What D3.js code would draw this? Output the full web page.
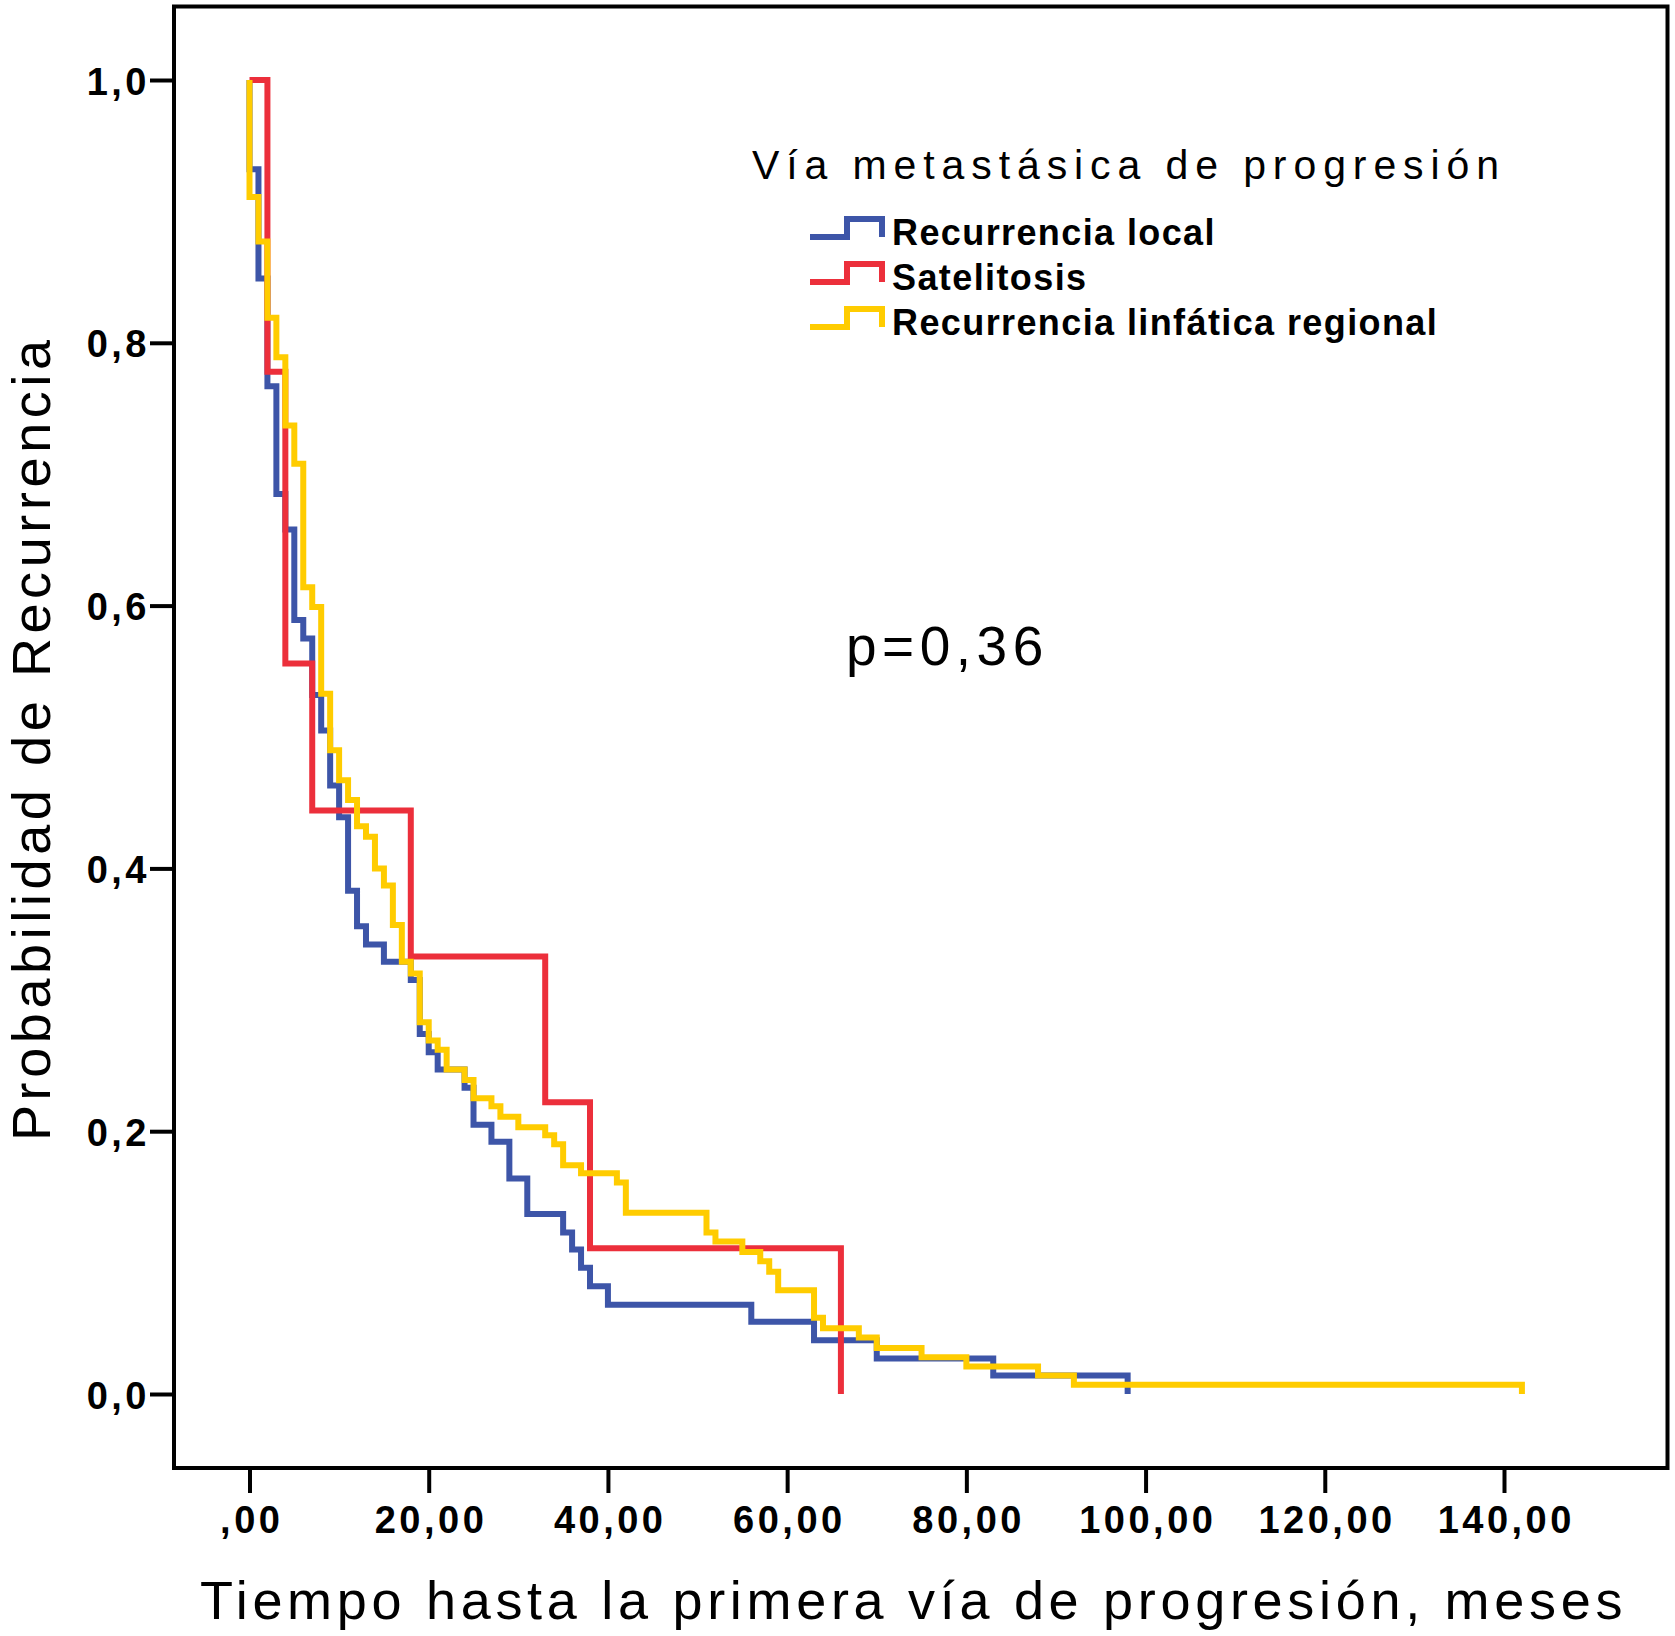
<!DOCTYPE html>
<html>
<head>
<meta charset="utf-8">
<script src="https://cdn.jsdelivr.net/npm/d3@7"></script>
<style>
  html, body { margin: 0; padding: 0; background: #fff; }
  svg { display: block; }
</style>
</head>
<body>
<svg id="chart" width="1675" height="1636"></svg>
<script>
// Kaplan-Meier curves (time in months, probability after the step)
const localTimes = [0, 0, 1, 2, 3, 4, 5, 6, 7, 8, 9, 10, 11, 12, 13, 15, 18, 19, 20, 21, 24, 25, 27, 29, 31, 35, 36, 37, 38, 40, 56, 63, 70, 83, 98];
const localSurv  = [1, 0.932, 0.849, 0.767, 0.685, 0.658, 0.589, 0.575, 0.532, 0.505, 0.463, 0.439, 0.383, 0.356, 0.342, 0.329, 0.315, 0.274, 0.260, 0.247, 0.233, 0.205, 0.192, 0.164, 0.137, 0.123, 0.110, 0.096, 0.082, 0.068, 0.055, 0.041, 0.027, 0.014, 0];

const satTimes = [0, 2, 4, 7, 18, 33, 38, 66];
const satSurv  = [1, 0.778, 0.556, 0.444, 0.333, 0.222, 0.111, 0];

const linfTimes = [0, 0, 1, 2, 3, 4, 5, 6, 7, 8, 9, 10, 11, 12, 13, 14, 15, 16, 17, 18, 19, 20, 21, 22, 24, 25, 27, 28, 30, 33, 34, 35, 37, 41, 42, 51, 52, 55, 57, 58, 59, 63, 64, 68, 70, 75, 80, 88, 92, 142];
const linfSurv  = [1, 0.911, 0.877, 0.819, 0.789, 0.737, 0.708, 0.614, 0.599, 0.533, 0.490, 0.467, 0.452, 0.432, 0.424, 0.400, 0.387, 0.357, 0.329, 0.320, 0.283, 0.269, 0.262, 0.247, 0.239, 0.225, 0.219, 0.211, 0.203, 0.197, 0.190, 0.174, 0.168, 0.161, 0.138, 0.123, 0.116, 0.108, 0.101, 0.093, 0.079, 0.058, 0.050, 0.043, 0.035, 0.028, 0.021, 0.014, 0.007, 0];

const seriesNames = ["Recurrencia local", "Satelitosis", "Recurrencia linfática regional"];
const xTicks = [0, 20, 40, 60, 80, 100, 120, 140];
const yTicks = [0, 0.2, 0.4, 0.6, 0.8, 1.0];

const legendTitle = "Vía metastásica de progresión";
const xTitle = "Tiempo hasta la primera vía de progresión, meses";
const yTitle = "Probabilidad de Recurrencia";
const pText = "p=0,36";

(function () {
  const FONT = '"Liberation Sans", Arial, Helvetica, sans-serif';
  const colors = ["#3d55a8", "#ec2f3b", "#ffcc00"];
  const LW = 6;

  // frame of the plot area
  const frame = { left: 174, right: 1667.5, top: 6.5, bottom: 1468 };

  const x = d3.scaleLinear().domain([0, 140]).range([249.5, 1504]);
  const y = d3.scaleLinear().domain([0, 1]).range([1394, 80]);

  const svg = d3.select("#chart");

  const series = [
    d3.zip(localTimes, localSurv),
    d3.zip(satTimes, satSurv),
    d3.zip(linfTimes, linfSurv),
  ];

  const line = d3
    .line()
    .x((d) => x(d[0]))
    .y((d) => y(d[1]))
    .curve(d3.curveStepAfter);

  // curves
  const gLines = svg.append("g").attr("fill", "none");
  series.forEach((s, i) => {
    gLines
      .append("path")
      .attr("d", line(s))
      .attr("stroke", colors[i])
      .attr("stroke-width", LW)
      .attr("stroke-linejoin", "miter");
  });

  // frame
  svg
    .append("rect")
    .attr("x", frame.left)
    .attr("y", frame.top)
    .attr("width", frame.right - frame.left)
    .attr("height", frame.bottom - frame.top)
    .attr("fill", "none")
    .attr("stroke", "#000")
    .attr("stroke-width", 4);

  // x axis
  const fmtX = (d) => (d === 0 ? ",00" : d.toFixed(2).replace(".", ","));
  const gx = svg
    .append("g")
    .attr("transform", `translate(0,${frame.bottom})`)
    .call(d3.axisBottom(x).tickValues(xTicks).tickSize(25).tickFormat(fmtX));
  gx.select(".domain").remove();
  gx.selectAll(".tick line").attr("stroke", "#000").attr("stroke-width", 4);
  gx.selectAll(".tick text")
    .attr("y", 65)
    .attr("dy", 0)
    .attr("dx", 1.75)
    .attr("fill", "#000")
    .style("font-family", FONT)
    .style("font-weight", "bold")
    .style("font-size", "38px")
    .style("letter-spacing", "3.5px");

  // y axis
  const fmtY = (d) => d.toFixed(1).replace(".", ",");
  const gy = svg
    .append("g")
    .attr("transform", `translate(${frame.left},0)`)
    .call(d3.axisLeft(y).tickValues(yTicks).tickSize(24).tickFormat(fmtY));
  gy.select(".domain").remove();
  gy.selectAll(".tick line").attr("stroke", "#000").attr("stroke-width", 4);
  gy.selectAll(".tick text")
    .attr("x", -24)
    .attr("dy", 14)
    .attr("fill", "#000")
    .style("font-family", FONT)
    .style("font-weight", "bold")
    .style("font-size", "38px")
    .style("letter-spacing", "3.5px");

  // axis titles
  svg
    .append("text")
    .attr("x", 200)
    .attr("y", 1619)
    .style("font-family", FONT)
    .style("font-size", "54px")
    .style("letter-spacing", "4.7px")
    .text(xTitle);

  svg
    .append("text")
    .attr("transform", "translate(50,1141) rotate(-90)")
    .style("font-family", FONT)
    .style("font-size", "54px")
    .style("letter-spacing", "4.6px")
    .text(yTitle);

  // legend
  svg
    .append("text")
    .attr("x", 752)
    .attr("y", 179)
    .style("font-family", FONT)
    .style("font-size", "41px")
    .style("letter-spacing", "6.9px")
    .text(legendTitle);

  const legendRows = [245, 290, 335];
  const gLeg = svg.append("g");
  seriesNames.forEach((name, i) => {
    const b = legendRows[i];
    gLeg
      .append("path")
      .attr("d", `M810,${b - 8}H847V${b - 26}H882V${b - 8}`)
      .attr("fill", "none")
      .attr("stroke", colors[i])
      .attr("stroke-width", LW);
    gLeg
      .append("text")
      .attr("x", 892)
      .attr("y", b)
      .style("font-family", FONT)
      .style("font-weight", "bold")
      .style("font-size", "36px")
      .style("letter-spacing", "1.4px")
      .text(name);
  });

  // p value
  svg
    .append("text")
    .attr("x", 846)
    .attr("y", 665)
    .style("font-family", FONT)
    .style("font-size", "55px")
    .style("letter-spacing", "5.5px")
    .text(pText);
})();
</script>
</body>
</html>
